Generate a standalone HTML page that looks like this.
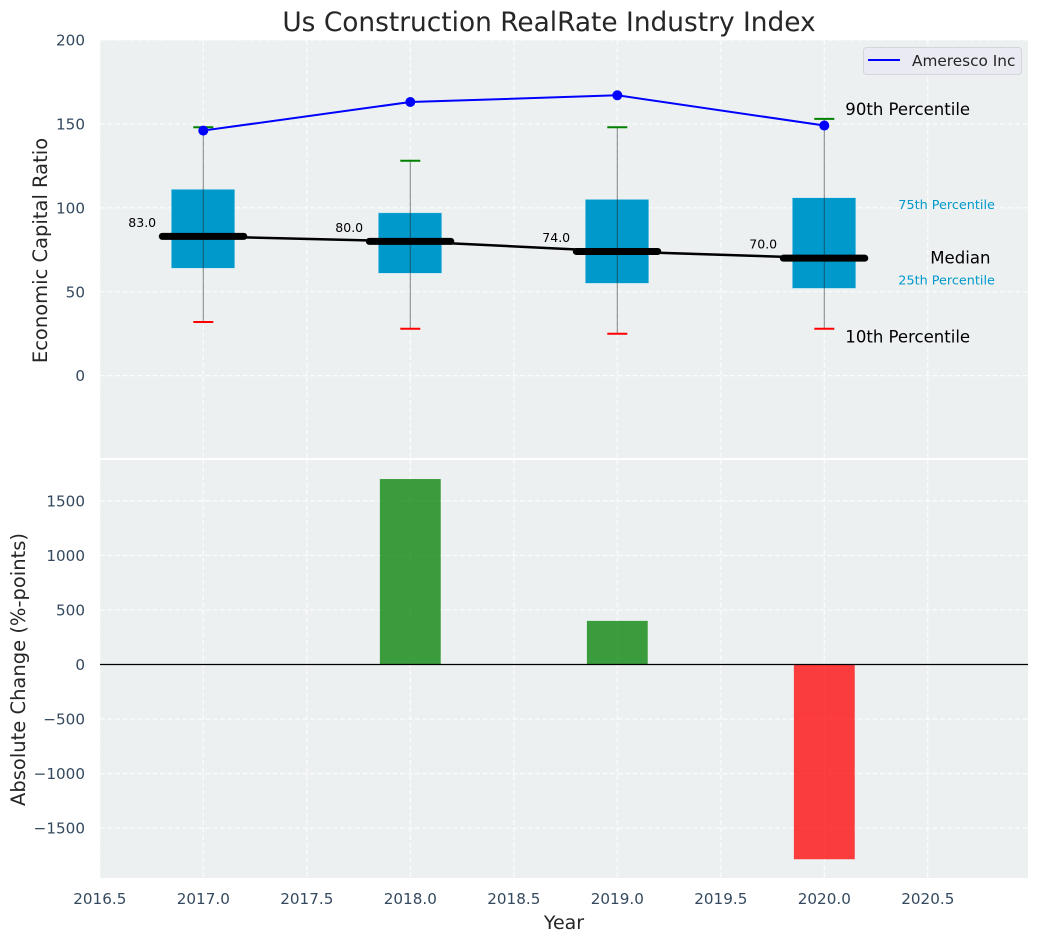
<!DOCTYPE html>
<html>
<head>
<meta charset="utf-8">
<title>Us Construction RealRate Industry Index</title>
<style>
html,body{margin:0;padding:0;background:#fff;}
svg{display:block;font-family:"DejaVu Sans","Liberation Sans",sans-serif;}
</style>
</head>
<body>
<svg id="chart" width="1039" height="942" viewBox="0 0 1039 942" xmlns="http://www.w3.org/2000/svg"></svg>
<script>
const years = [2017, 2018, 2019, 2020];
const p90 = [148, 128, 148, 153];
const p75 = [111, 97, 105, 106];
const median = [83, 80, 74, 70];
const p25 = [64, 61, 55, 52];
const p10 = [32, 28, 25, 28];
const company = [146, 163, 167, 149];
const change = [0, 1700, 400, -1785];
const xTicks = [2016.5, 2017, 2017.5, 2018, 2018.5, 2019, 2019.5, 2020, 2020.5];
const xTickLabels = ['2016.5', '2017.0', '2017.5', '2018.0', '2018.5', '2019.0', '2019.5', '2020.0', '2020.5'];
const topTicks = [0, 50, 100, 150, 200];
const topTickLabels = ['0', '50', '100', '150', '200'];
const bottomTicks = [-1500, -1000, -500, 0, 500, 1000, 1500];
const bottomTickLabels = ['\u22121500', '\u22121000', '\u2212500', '0', '500', '1000', '1500'];
const seriesName = 'Ameresco Inc';

const svg = document.getElementById('chart');
const NS = 'http://www.w3.org/2000/svg';
const L = 100, R = 1028, T1 = 40, B1 = 458, T2 = 460, B2 = 878;
const sx = v => 203.3 + (v - 2017) * 207;
const sy = v => 375.7 - v * 1.679;
const sc = v => 664.5 - v * 0.1091;
const ink = '#34495e';

function make(tag, attrs, text) {
  const el = document.createElementNS(NS, tag);
  for (const k in attrs) el.setAttribute(k, attrs[k]);
  if (text !== undefined) el.textContent = text;
  svg.appendChild(el);
  return el;
}
let el;

el = make('rect', {x: L, y: T1, width: R - L, height: B1 - T1, fill: '#ecf0f1'});


el = make('rect', {x: L, y: T2, width: R - L, height: B2 - T2, fill: '#ecf0f1'});



xTicks.forEach((t, i) => {
  el = make('line', {x1: sx(t), x2: sx(t), y1: T1, y2: B1, stroke: '#fff', 'stroke-width': 1.1, 'stroke-dasharray': '5 2.5', opacity: 0.9});
  
  
  el = make('line', {x1: sx(t), x2: sx(t), y1: T2, y2: B2, stroke: '#fff', 'stroke-width': 1.1, 'stroke-dasharray': '5 2.5', opacity: 0.9});
  
  
  el = make('text', {x: sx(t), y: 904, 'text-anchor': 'middle', 'font-size': 15.2, fill: ink}, xTickLabels[i]);
  
  
});

topTicks.forEach((t, i) => {
  el = make('line', {x1: L, x2: R, y1: sy(t), y2: sy(t), stroke: '#fff', 'stroke-width': 1.1, 'stroke-dasharray': '5 2.5', opacity: 0.9});
  
  
  el = make('text', {x: 85, y: sy(t) + 5.5, 'text-anchor': 'end', 'font-size': 15.2, fill: ink}, topTickLabels[i]);
  
  
});

bottomTicks.forEach((t, i) => {
  el = make('line', {x1: L, x2: R, y1: sc(t), y2: sc(t), stroke: '#fff', 'stroke-width': 1.1, 'stroke-dasharray': '5 2.5', opacity: 0.9});
  
  
  el = make('text', {x: 85, y: sc(t) + 5.5, 'text-anchor': 'end', 'font-size': 15.2, fill: ink}, bottomTickLabels[i]);
  
  
});

years.forEach((y, i) => {
  const hw = 0.152 * 207;
  el = make('rect', {x: sx(y) - hw - 0.5, y: sy(p75[i]), width: hw * 2 + 0.5, height: sy(p25[i]) - sy(p75[i]), fill: '#0099cc', stroke: '#bfe5f2', 'stroke-width': 0.5});
  
  
});

years.forEach((y, i) => {
  el = make('line', {x1: sx(y), x2: sx(y), y1: sy(p90[i]), y2: sy(p10[i]), stroke: '#222', 'stroke-width': 1.1, opacity: 0.5});
  
  
  el = make('line', {x1: sx(y) - 10, x2: sx(y) + 10, y1: sy(p90[i]), y2: sy(p90[i]), stroke: '#008000', 'stroke-width': 2});
  
  
  el = make('line', {x1: sx(y) - 10, x2: sx(y) + 10, y1: sy(p10[i]), y2: sy(p10[i]), stroke: '#ff0000', 'stroke-width': 2});
  
  
});

el = make('polyline', {points: years.map((y, i) => sx(y) + ',' + sy(median[i])).join(' '), fill: 'none', stroke: '#000', 'stroke-width': 2.5});



years.forEach((y, i) => {
  el = make('line', {x1: sx(y) - 41, x2: sx(y) + 40.5, y1: sy(median[i]), y2: sy(median[i]), stroke: '#000', 'stroke-width': 7, 'stroke-linecap': 'round'});
  
  
  el = make('text', {x: sx(y) - 75, y: sy(median[i]) - 9.5, 'font-size': 12.5, fill: '#000'}, median[i].toFixed(1));
  
  
});

el = make('polyline', {points: years.map((y, i) => sx(y) + ',' + sy(company[i])).join(' '), fill: 'none', stroke: '#0000ff', 'stroke-width': 2});


years.forEach((y, i) => {
  el = make('circle', {cx: sx(y), cy: sy(company[i]), r: 5, fill: '#0000ff'});
  
  
});

const last = years.length - 1;
const lastX = years[last];
el = make('text', {x: sx(lastX) + 21, y: sy(p90[last]) - 3.6, 'font-size': 16.55, fill: '#000'}, '90th Percentile');


el = make('text', {x: sx(lastX) + 21, y: sy(p10[last]) + 13.9, 'font-size': 16.55, fill: '#000'}, '10th Percentile');


el = make('text', {x: sx(lastX) + 106, y: sy(median[last]) + 5.2, 'font-size': 16.55, fill: '#000'}, 'Median');


el = make('text', {x: sx(lastX) + 74, y: sy(p75[last]) + 11.4, 'font-size': 12.8, fill: '#0099cc'}, '75th Percentile');


el = make('text', {x: sx(lastX) + 74, y: sy(p25[last]) - 4.1, 'font-size': 12.8, fill: '#0099cc'}, '25th Percentile');



el = make('rect', {x: 863.5, y: 47.5, width: 158, height: 27, rx: 3, fill: '#eaeaf2', stroke: '#d5d6da', 'stroke-width': 1});


el = make('line', {x1: 868, x2: 900, y1: 60, y2: 60, stroke: '#0000ff', 'stroke-width': 2});


el = make('text', {x: 912, y: 66, 'font-size': 15.3, fill: '#262626'}, seriesName);



years.forEach((y, i) => {
  if (change[i] === 0) return;
  const hw = 0.147 * 207;
  const top = Math.min(sc(change[i]), sc(0));
  const h = Math.abs(sc(change[i]) - sc(0));
  el = make('rect', {x: sx(y) - hw, y: top, width: hw * 2, height: h, fill: change[i] > 0 ? '#008000' : '#ff0000', 'fill-opacity': 0.75});
  
  
});

el = make('line', {x1: L, x2: R, y1: sc(0), y2: sc(0), stroke: '#000', 'stroke-width': 1.2});



el = make('text', {x: 549, y: 31, 'text-anchor': 'middle', 'font-size': 26.4, fill: '#262626'}, 'Us Construction RealRate Industry Index');


el = make('text', {x: 564, y: 929, 'text-anchor': 'middle', 'font-size': 19, fill: '#262626'}, 'Year');


el = make('text', {transform: 'translate(47,250.5) rotate(-90)', 'text-anchor': 'middle', 'font-size': 19.5, fill: '#262626'}, 'Economic Capital Ratio');


el = make('text', {transform: 'translate(25,669.5) rotate(-90)', 'text-anchor': 'middle', 'font-size': 19.5, fill: '#262626'}, 'Absolute Change (%-points)');


</script>
</body>
</html>
